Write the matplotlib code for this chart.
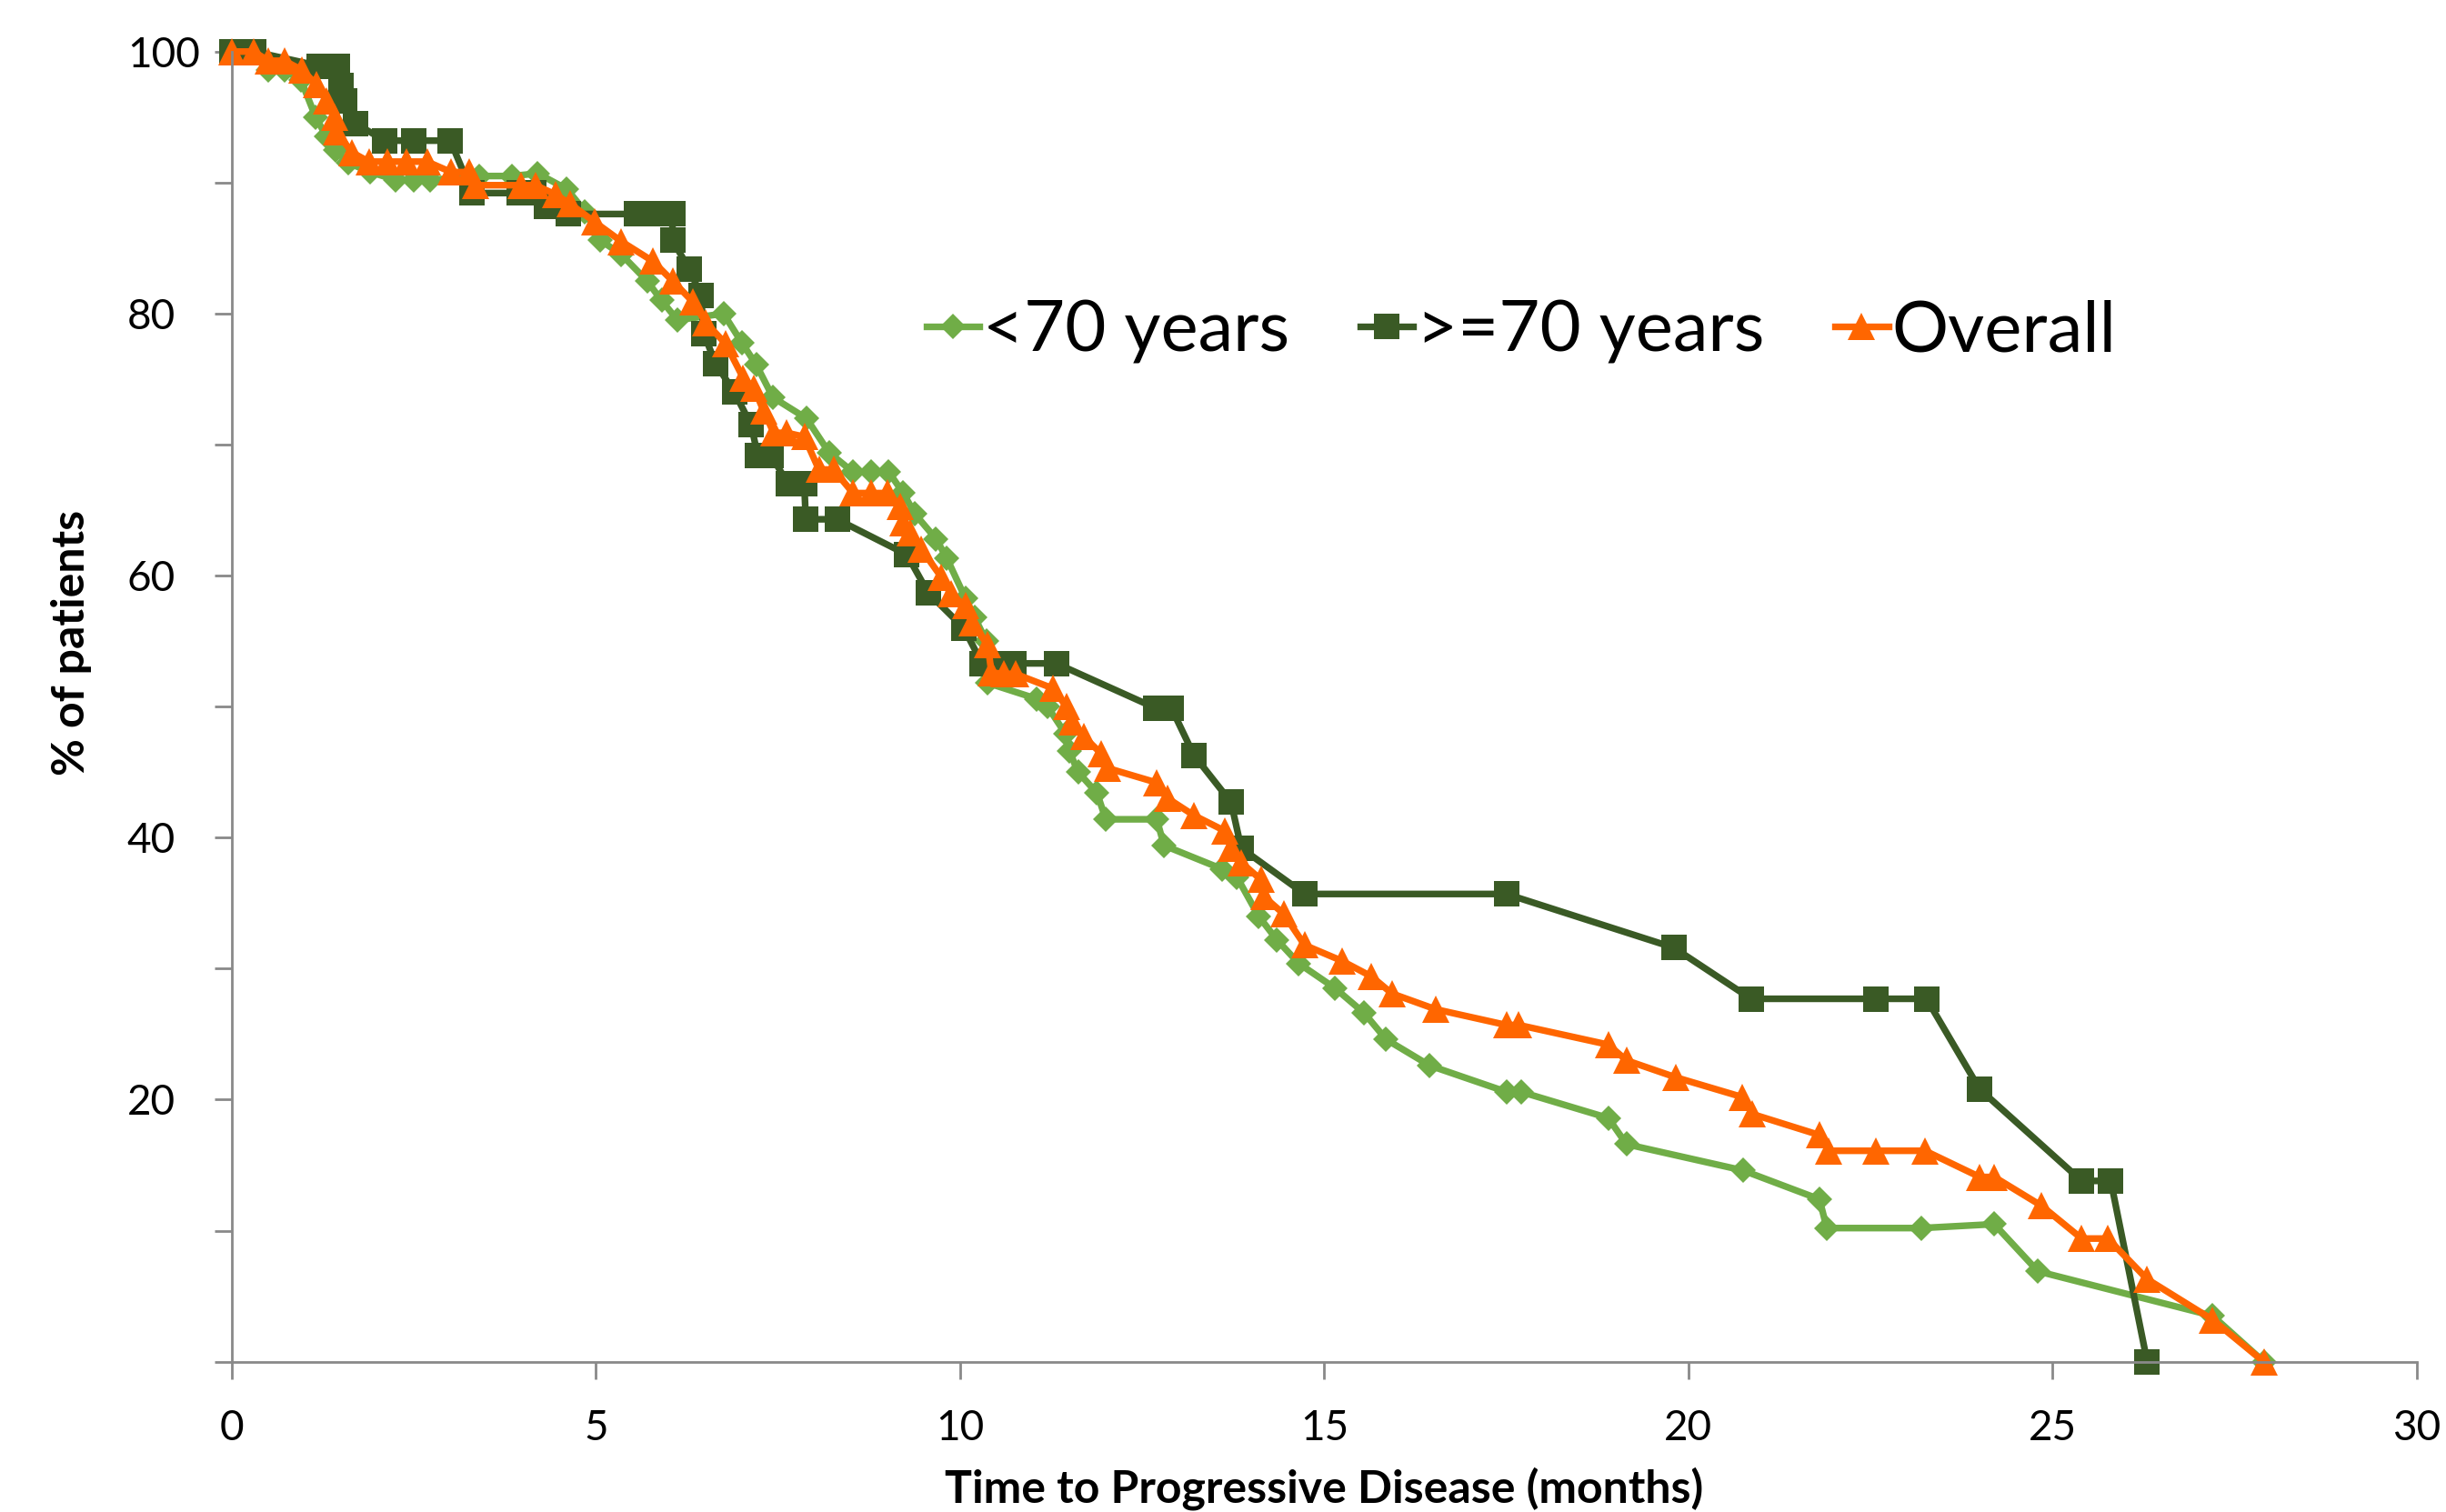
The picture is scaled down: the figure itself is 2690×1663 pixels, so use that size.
import matplotlib
matplotlib.use("Agg")
import matplotlib.pyplot as plt

plt.rcParams['font.family'] = ['Lato', 'DejaVu Sans']

# <70 years (light green, diamonds)
young_t = [0, 0.3, 0.5, 0.72, 0.95, 1.15, 1.3, 1.42, 1.6, 1.9, 2.25, 2.5, 2.72, 3.4, 3.85,
           4.2, 4.6, 4.85, 5.06, 5.35, 5.7, 5.9, 6.12, 6.75, 7.0, 7.2, 7.43, 7.89, 8.2,
           8.53, 8.78, 9.02, 9.22, 9.38, 9.67, 9.82, 10.07, 10.2, 10.36, 10.38, 11.05, 11.2,
           11.45, 11.5, 11.62, 11.88, 12.0, 12.7, 12.8, 13.6, 13.8, 14.1, 14.35, 14.65,
           15.15, 15.55, 15.85, 16.45, 17.5, 17.7, 18.9, 19.15, 20.75, 21.8, 21.9, 23.2,
           24.2, 24.8, 27.2, 27.9]
young_pct = [100, 100, 98.6, 98.6, 97.8, 95.0, 93.5, 92.5, 91.5, 90.8, 90.2, 90.2, 90.2, 90.5, 90.5,
             90.7, 89.5, 87.8, 85.6, 84.5, 82.5, 81.0, 79.5, 80.0, 77.8, 76.1, 73.6, 72.0, 69.4,
             67.9, 67.9, 67.9, 66.3, 64.7, 62.8, 61.3, 58.3, 56.8, 55.0, 51.8, 50.6, 50.0,
             47.9, 46.6, 45.0, 43.4, 41.4, 41.4, 39.4, 37.6, 37.0, 34.0, 32.2, 30.4,
             28.5, 26.6, 24.6, 22.6, 20.6, 20.6, 18.6, 16.6, 14.6, 12.4, 10.2, 10.2,
             10.5, 6.9, 3.5, 0]

# >=70 years (dark green, squares)
old_t = [0, 0.3, 1.2, 1.45, 1.5, 1.55, 1.7, 2.1, 2.5, 3.0, 3.3, 3.95, 4.15, 4.32, 4.62,
         5.55, 5.8, 6.05, 6.05, 6.28, 6.44, 6.48, 6.64, 6.9, 7.13, 7.22, 7.4, 7.64, 7.86,
         7.88, 8.31, 9.27, 9.56, 10.05, 10.3, 10.47, 10.74, 11.32, 12.68, 12.9, 13.21,
         13.72, 13.86, 14.73, 17.5, 19.8, 20.86, 22.57, 23.27, 24.0, 25.4, 25.8, 26.3]
old_pct = [100, 100, 98.9, 98.9, 97.4, 96.2, 94.5, 93.2, 93.2, 93.2, 89.2, 89.2, 89.2, 88.2, 87.6,
           87.6, 87.6, 87.6, 85.6, 83.4, 81.4, 78.5, 76.2, 74.0, 71.5, 69.2, 69.2, 67.0, 67.0,
           64.3, 64.3, 61.6, 58.7, 56.0, 53.3, 53.3, 53.3, 53.3, 49.9, 49.9, 46.3,
           42.7, 39.2, 35.7, 35.7, 31.6, 27.7, 27.7, 27.7, 20.8, 13.8, 13.8, 0]

# Overall (orange, triangles)
all_t = [0, 0.3, 0.5, 0.72, 0.96, 1.16, 1.3, 1.41, 1.43, 1.65, 1.88, 2.14, 2.4, 2.68, 3.01,
         3.26, 3.35, 3.97, 4.17, 4.44, 4.64, 4.98, 5.35, 5.78, 6.05, 6.33, 6.51, 6.78, 7.02,
         7.17, 7.3, 7.44, 7.62, 7.86, 8.06, 8.26, 8.53, 8.78, 9.0, 9.18, 9.22, 9.31, 9.47,
         9.74, 9.87, 10.07, 10.16, 10.38, 10.43, 10.6, 10.76, 11.27, 11.46, 11.54, 11.7,
         11.94, 12.03, 12.7, 12.85, 13.21, 13.64, 13.72, 13.86, 14.13, 14.17, 14.44, 14.73,
         15.24, 15.65, 15.93, 16.53, 17.5, 17.67, 18.9, 19.15, 19.83, 20.74, 20.88, 21.8,
         21.92, 22.57, 23.25, 24.0, 24.2, 24.85, 25.4, 25.76, 26.3, 27.2, 27.9]
all_pct = [100, 100, 99.3, 99.3, 98.6, 97.5, 96.2, 95.0, 93.9, 92.3, 91.6, 91.6, 91.6, 91.6, 90.8,
           90.8, 89.8, 89.8, 89.8, 89.1, 88.4, 87.0, 85.5, 84.0, 82.5, 80.9, 79.3, 77.7, 75.1,
           74.3, 72.6, 70.9, 70.9, 70.6, 68.1, 68.1, 66.3, 66.3, 66.3, 65.3, 64.0, 63.3, 62.0,
           59.9, 58.6, 57.7, 56.4, 54.7, 52.6, 52.5, 52.5, 51.4, 50.0, 48.8, 47.7,
           46.4, 45.3, 44.2, 43.0, 41.7, 40.5, 39.2, 38.1, 36.8, 35.5, 34.2, 31.8,
           30.6, 29.4, 28.1, 26.9, 25.7, 25.7, 24.2, 23.0, 21.7, 20.2, 18.9, 17.3,
           16.1, 16.1, 16.1, 14.1, 14.1, 11.9, 9.4, 9.4, 6.3, 3.2, 0]

x_ticks = [0, 5, 10, 15, 20, 25, 30]
y_ticks = [0, 10, 20, 30, 40, 50, 60, 70, 80, 90, 100]
y_labels = ['', '', '20', '', '40', '', '60', '', '80', '', '100']

fig = plt.figure(figsize=(26.9, 16.63), dpi=100)
ax = fig.add_axes([0.0948, 0.0994, 0.8932, 0.8665])

ax.plot(young_t, young_pct, color='#70AD47', linewidth=5.3, marker='D', markersize=14,
        markeredgewidth=0, label='<70 years', clip_on=False)
ax.plot(old_t, old_pct, color='#3A5A25', linewidth=5.3, marker='s', markersize=20,
        markeredgewidth=0, label='>=70 years', clip_on=False)
ax.plot(all_t, all_pct, color='#FF6600', linewidth=5.3, marker='^', markersize=21,
        markeredgewidth=0, label='Overall', clip_on=False)

ax.set_xlim(0, 30)
ax.set_ylim(0, 100)
ax.set_xticks(x_ticks)
ax.set_yticks(y_ticks)
ax.set_yticklabels(y_labels, ha='left')

for s in ['top', 'right']:
    ax.spines[s].set_visible(False)
for s in ['left', 'bottom']:
    ax.spines[s].set_color('#898989')
    ax.spines[s].set_linewidth(2)

ax.tick_params(axis='both', direction='out', length=14, width=2, color='#898989',
               labelsize=33, labelcolor='black')
ax.tick_params(axis='x', pad=24)
ax.tick_params(axis='y', pad=69)

ax.set_xlabel('Time to Progressive Disease (months)', fontsize=36, fontweight='bold')
ax.set_ylabel('% of patients', fontsize=36, fontweight='bold')
ax.xaxis.set_label_coords(0.5, -0.097)
ax.xaxis.label.set_va('center')
ax.yaxis.set_label_coords(-0.0735, 0.549)
ax.yaxis.label.set_va('center')

ax.legend(loc='center', bbox_to_anchor=(0.622, 0.7805), bbox_transform=fig.transFigure,
          ncol=3, frameon=False, fontsize=56, handlelength=0.75, handletextpad=0.05,
          columnspacing=1.0, borderpad=0)

fig.savefig('out.png', dpi=100)
